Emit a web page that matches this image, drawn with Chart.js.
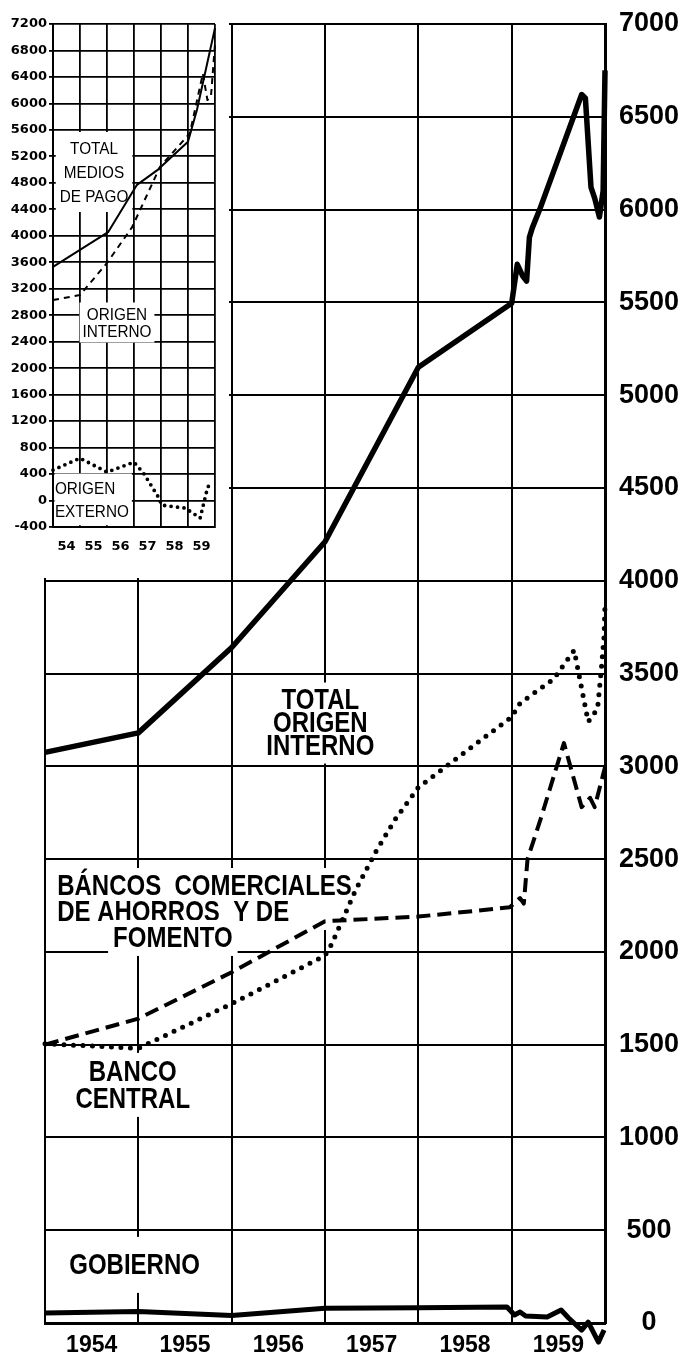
<!DOCTYPE html>
<html>
<head>
<meta charset="utf-8">
<script src="https://cdn.jsdelivr.net/npm/chart.js@4.4.0/dist/chart.umd.min.js"></script>
<style>
  html, body { margin: 0; padding: 0; background: #fff; }
  #contenedor { position: relative; width: 687px; height: 1366px; }
  #principal { position: absolute; left: 0; top: 0; }
  #recuadro { position: absolute; left: 0; top: 0; background: #fff; }
</style>
</head>
<body>
<div id="contenedor">
  <canvas id="principal" width="687" height="1366"></canvas>
  <canvas id="recuadro" width="229" height="578"></canvas>
</div>
<script>
// Grafico principal: medios de pago de origen interno
var anios = ['1954', '1955', '1956', '1957', '1958', '1959'];

var totalInternoX = [1954, 1955, 1956, 1957, 1958, 1959, 1959.06, 1959.12, 1959.16, 1959.19, 1959.22, 1959.3, 1959.75, 1959.79, 1959.85, 1959.89, 1959.94, 1959.98, 1960];
var totalInternoY = [3075, 3180, 3640, 4210, 5150, 5495, 5705, 5640, 5615, 5850, 5900, 6000, 6620, 6600, 6120, 6060, 5960, 6100, 6750];

var bancosComX = [1954, 1955, 1956, 1957, 1958, 1958.98, 1959.09, 1959.13, 1959.17, 1959.31, 1959.56, 1959.75, 1959.84, 1959.89, 1960];
var bancosComY = [1500, 1640, 1890, 2165, 2190, 2240, 2290, 2260, 2500, 2715, 3125, 2780, 2830, 2780, 2995];

var bancoCentralX = [1954, 1955, 1956, 1957, 1957.07, 1957.33, 1957.55, 1957.76, 1958, 1958.3, 1959, 1959.09, 1959.45, 1959.67, 1959.82, 1959.92, 1959.96, 1959.99, 1960];
var bancoCentralY = [1505, 1480, 1720, 1980, 2040, 2335, 2545, 2720, 2886, 3000, 3266, 3340, 3470, 3625, 3240, 3310, 3520, 3700, 3870];

var gobiernoX = [1954, 1955, 1956, 1957, 1958, 1958.95, 1959.03, 1959.09, 1959.15, 1959.38, 1959.53, 1959.61, 1959.75, 1959.82, 1959.93, 1959.99];
var gobiernoY = [54, 62, 40, 80, 82, 86, 43, 59, 38, 32, 70, 27, -38, 5, -103, -38];

// Recuadro: total de medios de pago
var aniosCortos = ['54', '55', '56', '57', '58', '59'];

var mediosPagoX = [1954, 1956.04, 1957.11, 1957.89, 1959, 1959.33, 1960];
var mediosPagoY = [3530, 4055, 4770, 5000, 5420, 5900, 7140];

var origenInternoX = [1954, 1955, 1956, 1956.93, 1957.96, 1959.07, 1959.55, 1959.72, 1959.85, 1960];
var origenInternoY = [3030, 3105, 3590, 4130, 5040, 5550, 6450, 6050, 6100, 6900];

var origenExternoX = [1954, 1955, 1956, 1957, 1957.35, 1957.9, 1958.03, 1958.9, 1959.45, 1959.73, 1959.92];
var origenExternoY = [460, 640, 430, 580, 415, 55, -70, -115, -265, 205, 265];

var fuenteRotulo = "'Liberation Sans', Arial, sans-serif";
var fuenteAncha = "'DejaVu Sans', sans-serif";

function puntos(xs, ys) {
    return xs.map(function (x, i) { return { x: x, y: ys[i] }; });
}

function serie(xs, ys, ancho, guiones, cap) {
    return {
        data: puntos(xs, ys),
        borderColor: '#000',
        borderWidth: ancho,
        borderDash: guiones || [],
        borderCapStyle: cap || 'butt',
        borderJoinStyle: 'round',
        pointRadius: 0,
        tension: 0,
        fill: false,
        clip: false
    };
}

// quitar el relleno automatico de las escalas para fijar el area
function sinRelleno(s) {
    s.paddingTop = 0;
    s.paddingBottom = 0;
    s.paddingLeft = 0;
    s.paddingRight = 0;
}

// Rotulos con fondo blanco que tapan la cuadricula (letra angosta)
function crearRotulos(bloques) {
    return {
        id: 'rotulos',
        beforeDatasetsDraw: function (chart) {
            var ctx = chart.ctx;
            var area = chart.chartArea;
            var sx = chart.scales.x, sy = chart.scales.y;
            bloques.forEach(function (b) {
                ctx.save();
                ctx.font = b.fuente;
                var cx = sx.getPixelForValue(b.x);
                var cy = sy.getPixelForValue(b.y);
                var ancho = 0;
                b.lineas.forEach(function (l) { ancho = Math.max(ancho, ctx.measureText(l).width * b.escala); });
                var alto = b.lineas.length * b.interlinea;
                var x0 = b.alinear === 'left' ? cx : cx - ancho / 2;
                var y0 = cy - alto / 2;
                ctx.beginPath();
                ctx.rect(area.left + 1.5, area.top + 1.5, area.right - area.left - 3, area.bottom - area.top - 3);
                ctx.clip();
                ctx.fillStyle = '#fff';
                ctx.fillRect(x0 - b.margen, y0 - b.margen, ancho + 2 * b.margen, alto + 2 * b.margen);
                ctx.fillStyle = '#000';
                ctx.textAlign = b.alinear;
                ctx.textBaseline = 'middle';
                b.lineas.forEach(function (l, i) {
                    ctx.save();
                    ctx.translate(cx, y0 + b.interlinea * (i + 0.5) + 1);
                    ctx.scale(b.escala, 1);
                    ctx.fillText(l, 0, 0);
                    ctx.restore();
                });
                ctx.restore();
            });
        }
    };
}

var rotulosPrincipal = [
    { lineas: ['TOTAL', 'ORIGEN', 'INTERNO'], x: 1956.95, y: 3233, interlinea: 23, alinear: 'center', margen: 6, escala: 0.8, fuente: 'bold 30px ' + fuenteRotulo },
    { lineas: ['BÁNCOS  COMERCIALES', 'DE AHORROS  Y DE'], x: 1954.13, y: 2285, interlinea: 26, alinear: 'left', margen: 5, escala: 0.8, fuente: 'bold 30px ' + fuenteRotulo },
    { lineas: ['FOMENTO'], x: 1955.37, y: 2075, interlinea: 26, alinear: 'center', margen: 5, escala: 0.8, fuente: 'bold 30px ' + fuenteRotulo },
    { lineas: ['BANCO', 'CENTRAL'], x: 1954.94, y: 1283, interlinea: 27, alinear: 'center', margen: 5, escala: 0.8, fuente: 'bold 30px ' + fuenteRotulo },
    { lineas: ['GOBIERNO'], x: 1954.96, y: 313, interlinea: 28, alinear: 'center', margen: 14, escala: 0.8, fuente: 'bold 30px ' + fuenteRotulo }
];

var rotulosRecuadro = [
    { lineas: ['TOTAL', 'MEDIOS', 'DE PAGO'], x: 1955.52, y: 4964, interlinea: 24, alinear: 'center', margen: 4, escala: 0.9, fuente: '17px ' + fuenteRotulo },
    { lineas: ['ORIGEN', 'INTERNO'], x: 1956.37, y: 2690, interlinea: 17, alinear: 'center', margen: 3, escala: 0.9, fuente: '17px ' + fuenteRotulo },
    { lineas: ['ORIGEN', 'EXTERNO'], x: 1954.07, y: 16, interlinea: 23, alinear: 'left', margen: 3, escala: 0.9, fuente: '17px ' + fuenteRotulo }
];

// Grafico principal
new Chart(document.getElementById('principal').getContext('2d'), {
    type: 'line',
    data: {
        datasets: [
            serie(totalInternoX, totalInternoY, 5.5),
            serie(bancosComX, bancosComY, 4, [14, 7]),
            serie(bancoCentralX, bancoCentralY, 5, [0, 9.5], 'round'),
            serie(gobiernoX, gobiernoY, 5)
        ]
    },
    options: {
        responsive: false,
        animation: false,
        layout: { padding: { left: 45, top: 24, right: 0, bottom: 0 } },
        plugins: { legend: { display: false }, tooltip: { enabled: false } },
        scales: {
            x: {
                type: 'linear', min: 1954, max: 1960,
                ticks: {
                    stepSize: 1, autoSkip: false, maxRotation: 0, labelOffset: 46.7, padding: 9,
                    color: '#000', font: { family: fuenteRotulo, size: 23, weight: 'bold' },
                    callback: function (v) { return v < 1960 ? anios[v - 1954] : ''; }
                },
                grid: { color: '#000', lineWidth: 2, drawTicks: false },
                border: { color: '#000', width: 3 },
                afterFit: function (s) { s.height = 43; sinRelleno(s); }
            },
            y: {
                position: 'right', min: 0, max: 7000,
                ticks: {
                    stepSize: 500, crossAlign: 'center', padding: 14,
                    color: '#000', font: { family: fuenteRotulo, size: 27, weight: 'bold', lineHeight: 1 },
                    callback: function (v) { return String(v); }
                },
                grid: { color: '#000', lineWidth: 2, drawTicks: false },
                border: { color: '#000', width: 3 },
                afterFit: function (s) { s.width = 82; sinRelleno(s); }
            }
        }
    },
    plugins: [crearRotulos(rotulosPrincipal)]
});

// Recuadro superior izquierdo
new Chart(document.getElementById('recuadro').getContext('2d'), {
    type: 'line',
    data: {
        datasets: [
            serie(mediosPagoX, mediosPagoY, 2),
            serie(origenInternoX, origenInternoY, 2, [6, 5]),
            serie(origenExternoX, origenExternoY, 3.8, [0, 6.5], 'round')
        ]
    },
    options: {
        responsive: false,
        animation: false,
        layout: { padding: { left: 0, top: 24, right: 14, bottom: 0 } },
        plugins: { legend: { display: false }, tooltip: { enabled: false } },
        scales: {
            x: {
                type: 'linear', min: 1954, max: 1960,
                ticks: {
                    stepSize: 1, autoSkip: false, maxRotation: 0, labelOffset: 13.5, padding: 12,
                    color: '#000', font: { family: fuenteAncha, size: 13, weight: 'bold' },
                    callback: function (v) { return v < 1960 ? aniosCortos[v - 1954] : ''; }
                },
                grid: { color: '#000', lineWidth: 1.8, drawTicks: false },
                border: { color: '#000', width: 2 },
                afterFit: function (s) { s.height = 51; sinRelleno(s); }
            },
            y: {
                position: 'left', min: -400, max: 7200,
                ticks: {
                    stepSize: 400, autoSkip: false, padding: 2,
                    color: '#000', font: { family: fuenteAncha, size: 13, weight: 'bold', lineHeight: 1 },
                    callback: function (v) { return String(v); }
                },
                grid: { color: '#000', lineWidth: 1.8, drawTicks: true, tickLength: 4 },
                border: { color: '#000', width: 2 },
                afterFit: function (s) { s.width = 53; sinRelleno(s); }
            }
        }
    },
    plugins: [crearRotulos(rotulosRecuadro)]
});
</script>
</body>
</html>
